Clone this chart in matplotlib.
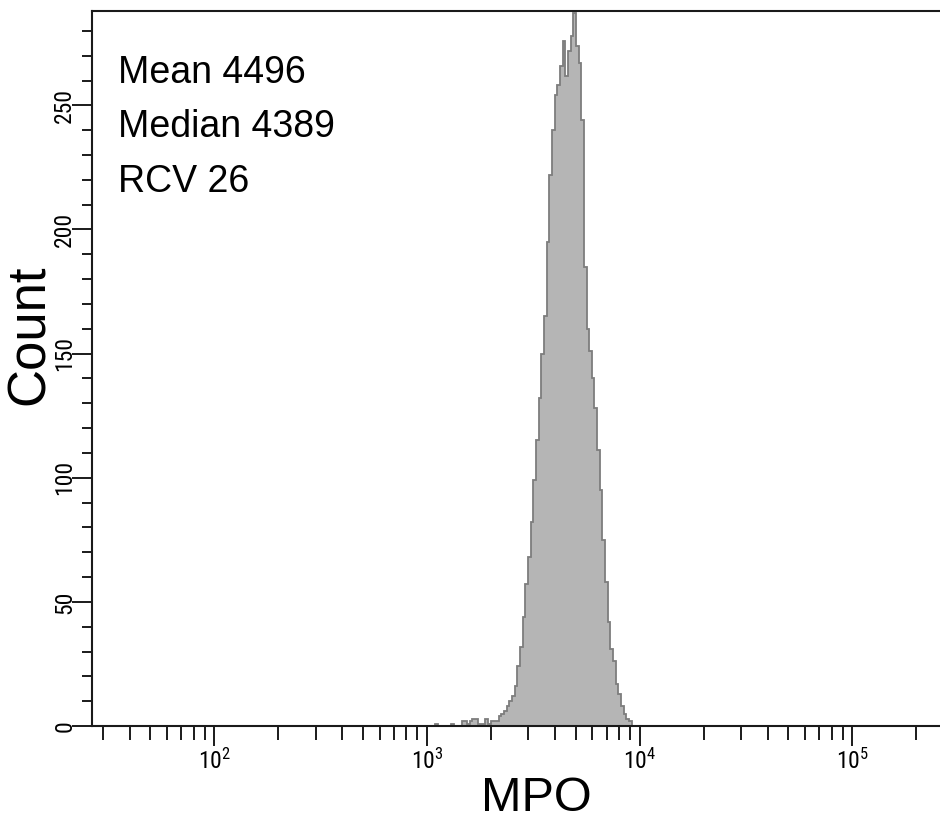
import numpy as np
import matplotlib
matplotlib.use("Agg")
import matplotlib.pyplot as plt
from matplotlib import font_manager as fm
from matplotlib.ticker import FixedLocator, FixedFormatter, NullFormatter

# ---------------- data ----------------
bin_start_log = 3.0        # first bin edge, log10(MPO)
bin_step_log = 0.0125      # bin width in decades
counts = [0, 0, 0, 1, 0, 0, 0, 0, 0, 1,
          0, 0, 0, 2, 2, 1, 2, 3, 3, 1,
          1, 1, 3, 1, 2, 2, 2, 4, 5, 6,
          8, 10, 12, 16, 24, 32, 44, 57, 68, 82,
          99, 115, 132, 150, 165, 195, 222, 240, 254, 258,
          266, 276, 262, 272, 278, 287, 274, 267, 244, 185,
          160, 151, 140, 128, 111, 95, 75, 58, 42, 31,
          26, 17, 13, 8, 5, 3, 2, 0, 0, 0]
stats_labels = ["Mean 4496", "Median 4389", "RCV 26"]
x_label = "MPO"
y_label = "Count"
y_major = [0, 50, 100, 150, 200, 250]
y_minor = [v for v in range(0, 290, 10) if v % 50]
x_major_exp = [2, 3, 4, 5]
x_limits_log = (1.425, 5.412)
y_limits = (0, 288)

# ---------------- fonts ----------------
names = {f.name for f in fm.fontManager.ttflist}
REG = "Liberation Sans" if "Liberation Sans" in names else "DejaVu Sans"
NARROW = REG
for cand in ["Liberation Sans Narrow", "Arial Narrow", "Roboto Condensed"]:
    if cand in names:
        NARROW = cand
        break
tick_size = 17 if NARROW != REG else 15.5
plt.rcParams["mathtext.fontset"] = "custom"
plt.rcParams["mathtext.rm"] = NARROW
plt.rcParams["mathtext.it"] = NARROW
plt.rcParams["font.family"] = [REG, "DejaVu Sans"]

# ---------------- figure ----------------
W, H = 940, 822
fig = plt.figure(figsize=(W / 100, H / 100), dpi=100)
left, right, bottom, top = 92, 940, 726, 11
ax = fig.add_axes([left / W, 1 - bottom / H, (right - left) / W, (bottom - top) / H])

edges = 10 ** (bin_start_log + bin_step_log * np.arange(len(counts) + 1))
ax.stairs(counts, edges, fill=True, color="#b5b5b5", linewidth=0)
ax.stairs(counts, edges, fill=False, color="#7d7d7d", linewidth=1.3)

ax.set_xscale("log")
ax.set_xlim(10 ** x_limits_log[0], 10 ** x_limits_log[1])
ax.set_ylim(*y_limits)

# x ticks
ax.xaxis.set_major_locator(FixedLocator([10.0 ** e for e in x_major_exp]))
ax.xaxis.set_major_formatter(FixedFormatter([r"$\mathrm{10^{%d}}$" % e for e in x_major_exp]))
minors = [m * 10.0 ** e for e in range(1, 6) for m in range(2, 10)]
ax.xaxis.set_minor_locator(FixedLocator(minors))
ax.xaxis.set_minor_formatter(NullFormatter())

# y ticks
ax.yaxis.set_major_locator(FixedLocator(y_major))
ax.yaxis.set_major_formatter(FixedFormatter([str(v) for v in y_major]))
ax.yaxis.set_minor_locator(FixedLocator(y_minor))

ax.tick_params(axis="both", which="both", direction="out", color="#1a1a1a", width=1.4)
ax.tick_params(axis="x", which="major", length=14.4, pad=2, labelsize=tick_size)
ax.tick_params(axis="x", which="minor", length=10)
ax.tick_params(axis="y", which="major", length=14.4, pad=-3, labelsize=tick_size, labelrotation=90)
ax.tick_params(axis="y", which="minor", length=7.2)
for lab in ax.get_yticklabels():
    lab.set_fontfamily(NARROW)
    lab.set_va("center")
    lab.set_ha("right")

for s in ["left", "bottom", "top"]:
    ax.spines[s].set_linewidth(1.5)
    ax.spines[s].set_color("#1a1a1a")
ax.spines["right"].set_visible(False)

# stats text
for lbl, yc in zip(stats_labels, [73, 127, 182]):
    fig.text(118 / W, 1 - yc / H, lbl, fontsize=27, family=REG, ha="left", va="center")

fig.text(30 / W, 1 - 335 / H, y_label, fontsize=38, family=REG, rotation=90,
         ha="center", va="center")
fig.text(536 / W, 1 - 811 / H, x_label, fontsize=35, family=REG,
         ha="center", va="baseline")

fig.savefig("out.png", dpi=100)
